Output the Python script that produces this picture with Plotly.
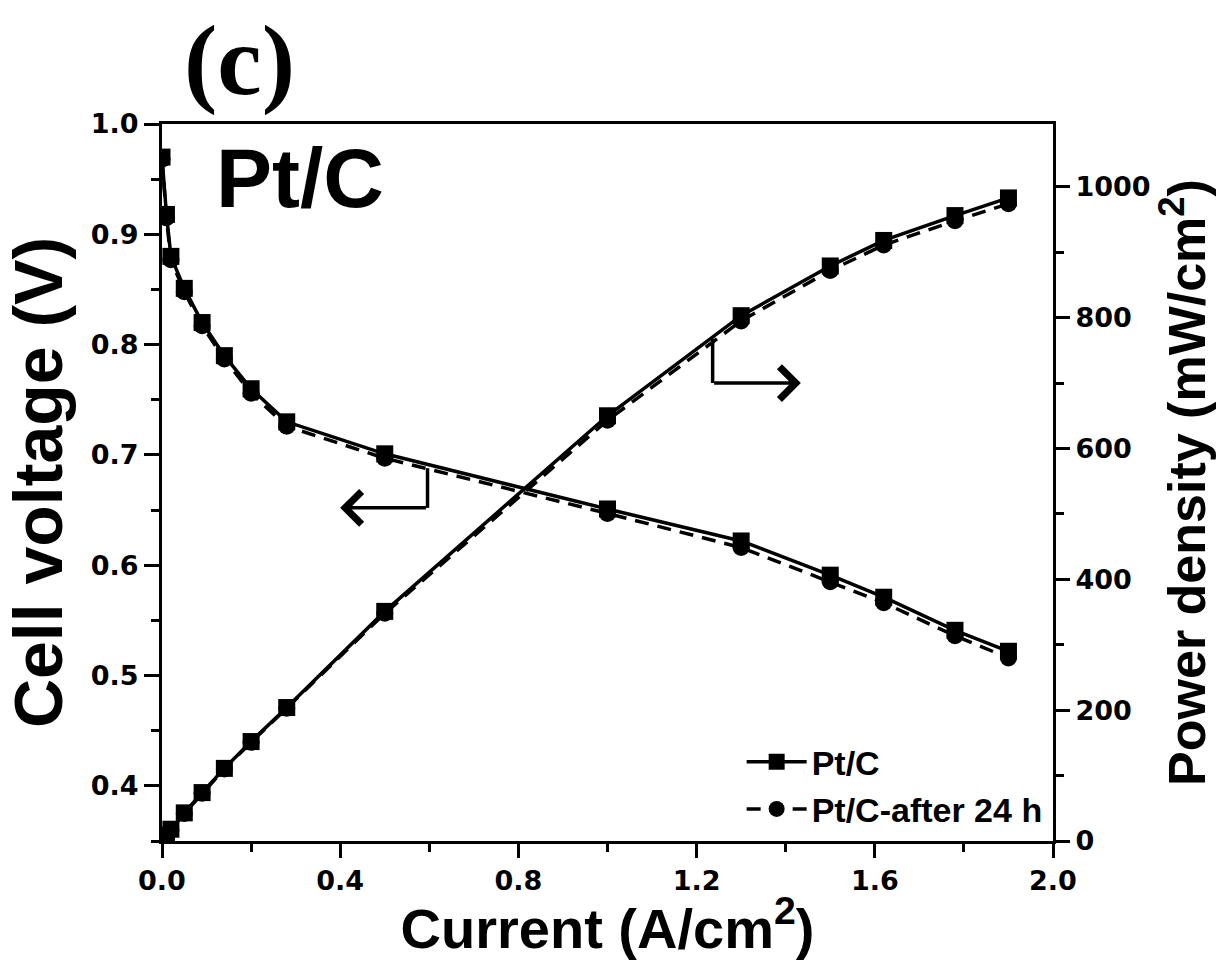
import plotly.graph_objects as go

# ---- data ----
current = [0.0, 0.01, 0.02, 0.05, 0.09, 0.14, 0.20, 0.28, 0.50, 1.00, 1.30, 1.50, 1.62, 1.78, 1.90]
volt_ptc = [0.970, 0.918, 0.880, 0.851, 0.820, 0.790, 0.760, 0.730, 0.701, 0.651, 0.622, 0.591, 0.571, 0.541, 0.522]
volt_after = [0.968, 0.915, 0.877, 0.848, 0.817, 0.787, 0.756, 0.726, 0.697, 0.647, 0.616, 0.585, 0.566, 0.536, 0.516]
power_ptc = [0, 9, 18, 43, 74, 111, 152, 204, 351, 650, 803, 879, 918, 956, 983]
power_after = [0, 9, 17, 42, 73, 110, 151, 203, 348, 643, 795, 872, 911, 948, 974]

series_names = ["Pt/C", "Pt/C-after 24 h"]
x_ticks = [0.0, 0.4, 0.8, 1.2, 1.6, 2.0]
y_ticks = [0.4, 0.5, 0.6, 0.7, 0.8, 0.9, 1.0]
y2_ticks = [0, 200, 400, 600, 800, 1000]

SANS = "Liberation Sans, Arial, sans-serif"
TICKF = "DejaVu Sans, sans-serif"
BLACK = "#000000"

fig = go.Figure()

line_solid = dict(color=BLACK, width=3.5)
line_dash = dict(color=BLACK, width=3.5, dash="14px,9px")
MS = 17

fig.add_trace(go.Scatter(x=current, y=volt_ptc, mode="lines+markers", name=series_names[0],
                         line=line_solid, marker=dict(symbol="square", size=MS, color=BLACK),
                         yaxis="y", legendrank=1))
fig.add_trace(go.Scatter(x=current, y=volt_after, mode="lines+markers", name=series_names[1],
                         line=line_dash, marker=dict(symbol="circle", size=MS, color=BLACK),
                         yaxis="y", legendrank=2))
fig.add_trace(go.Scatter(x=current, y=power_ptc, mode="lines+markers", name=series_names[0],
                         line=line_solid, marker=dict(symbol="square", size=MS, color=BLACK),
                         yaxis="y2", showlegend=False))
fig.add_trace(go.Scatter(x=current, y=power_after, mode="lines+markers", name=series_names[1],
                         line=line_dash, marker=dict(symbol="circle", size=MS, color=BLACK),
                         yaxis="y2", showlegend=False))

axis_common = dict(showline=True, linecolor=BLACK, linewidth=3, ticks="outside",
                   tickcolor=BLACK, tickwidth=3, showgrid=False, zeroline=False,
                   tickfont=dict(family=TICKF, size=27, color=BLACK, weight="bold"))

fig.update_layout(
    width=1222, height=960,
    paper_bgcolor="white", plot_bgcolor="white",
    margin=dict(l=162, r=169, t=124, b=119, autoexpand=False),
    showlegend=True,
    legend=dict(x=0.994, y=0.004, xanchor="right", yanchor="bottom",
                bgcolor="rgba(0,0,0,0)", font=dict(family=SANS, size=34, color=BLACK, weight="bold"),
                itemwidth=60, tracegroupgap=0),
    xaxis=dict(range=[0, 2.0], tickvals=x_ticks, ticktext=[f"{v:.1f}" for v in x_ticks],
               ticklen=14, mirror=True,
               minor=dict(dtick=0.2, tick0=0, ticklen=8, tickwidth=3, tickcolor=BLACK, ticks="outside"),
               title=dict(text="Current (A/cm<sup>2</sup>)", standoff=10,
                          font=dict(family=SANS, size=56, color=BLACK, weight="bold")),
               **axis_common),
    yaxis=dict(range=[0.35, 1.0], tickvals=y_ticks, ticktext=[f"{v:.1f}" for v in y_ticks],
               ticklen=15,
               minor=dict(dtick=0.05, tick0=0.35, ticklen=8, tickwidth=3, tickcolor=BLACK, ticks="outside"),
               title=dict(text="Cell voltage (V)", standoff=24,
                          font=dict(family=SANS, size=68, color=BLACK, weight="bold")),
               **axis_common),
    yaxis2=dict(range=[0, 1096], tickvals=y2_ticks, overlaying="y", side="right",
                ticklen=14,
                minor=dict(dtick=100, tick0=0, ticklen=8, tickwidth=3, tickcolor=BLACK, ticks="outside"),
                title=dict(text="Power density (mW/cm<sup>2</sup>)", standoff=18,
                           font=dict(family=SANS, size=52, color=BLACK, weight="bold")),
                **axis_common),
)

# bracket arrows pointing to the relevant axes
fig.add_shape(type="line", xref="x", yref="y", x0=0.596, x1=0.596, y0=0.688, y1=0.652,
              line=dict(color=BLACK, width=3.5))
fig.add_annotation(xref="x", yref="y", axref="x", ayref="y", x=0.40, y=0.652, ax=0.596, ay=0.652,
                   text="", showarrow=True, arrowhead=4, arrowsize=1.8, arrowwidth=3.5, arrowcolor=BLACK)
fig.add_shape(type="line", xref="x", yref="y2", x0=1.236, x1=1.236, y0=768, y1=700,
              line=dict(color=BLACK, width=3.5))
fig.add_annotation(xref="x", yref="y2", axref="x", ayref="y2", x=1.434, y=700, ax=1.236, ay=700,
                   text="", showarrow=True, arrowhead=4, arrowsize=1.8, arrowwidth=3.5, arrowcolor=BLACK)

fig.add_annotation(xref="paper", yref="paper", x=0.058, y=0.925, xanchor="left", yanchor="middle",
                   text="Pt/C", showarrow=False,
                   font=dict(family=SANS, size=84, color=BLACK, weight="bold"))
fig.add_annotation(xref="paper", yref="paper", x=0.0875, y=1.0, xanchor="center", yanchor="bottom",
                   yshift=6, text="(c)", showarrow=False,
                   font=dict(family="Liberation Serif, Times New Roman, serif", size=100, color=BLACK, weight="bold"))

fig.write_html("out.html", config={"displayModeBar": False},
               post_script="document.body.style.margin='0';")
